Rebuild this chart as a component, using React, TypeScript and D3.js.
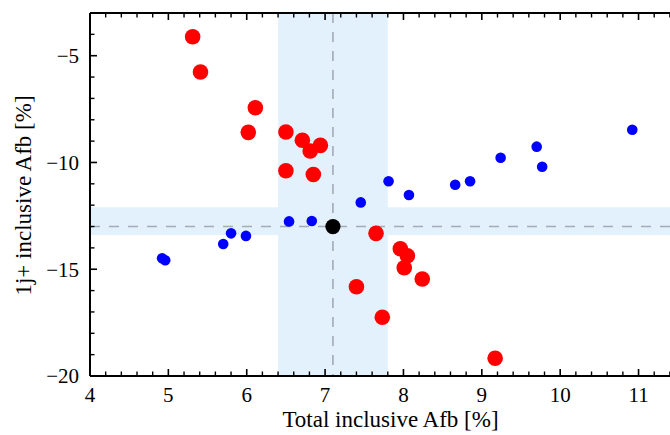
import React from "react";
import * as d3 from "d3";

const redX = [5.31, 5.41, 6.11, 6.02, 6.50, 6.71, 6.81, 6.94, 6.50, 6.85, 7.65, 7.96, 8.05, 8.01, 8.24, 7.40, 7.73, 9.17];
const redY = [-4.11, -5.76, -7.44, -8.59, -8.57, -8.96, -9.46, -9.20, -10.39, -10.56, -13.32, -14.04, -14.37, -14.93, -15.46, -15.82, -17.25, -19.17];

const blueX = [7.455, 7.81, 8.07, 8.66, 8.85, 9.24, 9.70, 9.77, 10.92, 4.92, 4.96, 5.70, 5.80, 5.99, 6.54, 6.83];
const blueY = [-11.87, -10.88, -11.52, -11.04, -10.88, -9.78, -9.26, -10.20, -8.47, -14.49, -14.58, -13.82, -13.32, -13.44, -12.76, -12.74];

const refX = 7.1;
const refY = -13;
const bandX = [6.4, 7.8];
const bandY = [-13.4, -12.1];

const xTicks = [4, 5, 6, 7, 8, 9, 10, 11];
const yTicks = [-20, -15, -10, -5];

const W = 670;
const H = 435;
const left = 90;
const right = 684;
const top = 13;
const bottom = 376;

export default function App() {
  const x = d3.scaleLinear().domain([4, 11.58]).range([left, right]);
  const y = d3.scaleLinear().domain([-20, -3]).range([bottom, top]);
  const font = "'Liberation Serif', 'Times New Roman', serif";

  const xMinor = d3.range(4, 11.6, 0.2).filter((v) => Math.abs(v - Math.round(v)) > 1e-6);
  const yMinor = d3.range(-20, -3, 1).filter((v) => v % 5 !== 0);
  const fmt = (v: number) => (v < 0 ? "\u2212" + Math.abs(v) : String(v));

  return (
    <div style={{ position: "absolute", left: 0, top: 0 }}>
      <svg width={W} height={H} style={{ display: "block", background: "#fff" }}>
        <rect x={x(bandX[0])} y={top} width={x(bandX[1]) - x(bandX[0])} height={bottom - top} fill="#e3f1fd" />
        <rect x={left} y={y(bandY[1])} width={right - left} height={y(bandY[0]) - y(bandY[1])} fill="#e3f1fd" />
        <line x1={x(refX)} x2={x(refX)} y1={top} y2={bottom} stroke="#a3abb3" strokeWidth={1.6} strokeDasharray="10 9" />
        <line x1={left} x2={right} y1={y(refY)} y2={y(refY)} stroke="#a3abb3" strokeWidth={1.6} strokeDasharray="10 9" />

        {blueX.map((v, i) => (
          <circle key={"b" + i} cx={x(v)} cy={y(blueY[i])} r={5.3} fill="#0000ff" />
        ))}
        {redX.map((v, i) => (
          <circle key={"r" + i} cx={x(v)} cy={y(redY[i])} r={7.8} fill="#ff0000" />
        ))}
        <circle cx={x(refX)} cy={y(refY)} r={7.6} fill="#000" />

        {/* frame */}
        <line x1={left} x2={right} y1={bottom} y2={bottom} stroke="#000" strokeWidth={2} />
        <line x1={left} x2={right} y1={top} y2={top} stroke="#000" strokeWidth={2} />
        <line x1={left} x2={left} y1={top} y2={bottom} stroke="#000" strokeWidth={2} />

        {xTicks.map((v) => (
          <g key={"xt" + v}>
            <line x1={x(v)} x2={x(v)} y1={bottom} y2={bottom - 7} stroke="#000" strokeWidth={1.6} />
            <line x1={x(v)} x2={x(v)} y1={top} y2={top + 7} stroke="#000" strokeWidth={1.6} />
            <text x={x(v)} y={402} textAnchor="middle" fontFamily={font} fontSize={21} fill="#000">
              {fmt(v)}
            </text>
          </g>
        ))}
        {xMinor.map((v, i) => (
          <g key={"xm" + i}>
            <line x1={x(v)} x2={x(v)} y1={bottom} y2={bottom - 4.5} stroke="#000" strokeWidth={1.4} />
            <line x1={x(v)} x2={x(v)} y1={top} y2={top + 4.5} stroke="#000" strokeWidth={1.4} />
          </g>
        ))}
        {yTicks.map((v) => (
          <g key={"yt" + v}>
            <line x1={left} x2={left + 7} y1={y(v)} y2={y(v)} stroke="#000" strokeWidth={1.6} />
            <text x={79} y={y(v) + 7.3} textAnchor="end" fontFamily={font} fontSize={21} fill="#000">
              {fmt(v)}
            </text>
          </g>
        ))}
        {yMinor.map((v, i) => (
          <line key={"ym" + i} x1={left} x2={left + 4.5} y1={y(v)} y2={y(v)} stroke="#000" strokeWidth={1.4} />
        ))}

        <text x={390.5} y={427} textAnchor="middle" fontFamily={font} fontSize={23} fill="#000">
          Total inclusive Afb [%]
        </text>
        <text
          transform={`translate(30.5, 195.5) rotate(-90)`}
          textAnchor="middle"
          fontFamily={font}
          fontSize={23}
          fill="#000"
        >
          1j+ inclusive Afb [%]
        </text>
      </svg>
    </div>
  );
}
